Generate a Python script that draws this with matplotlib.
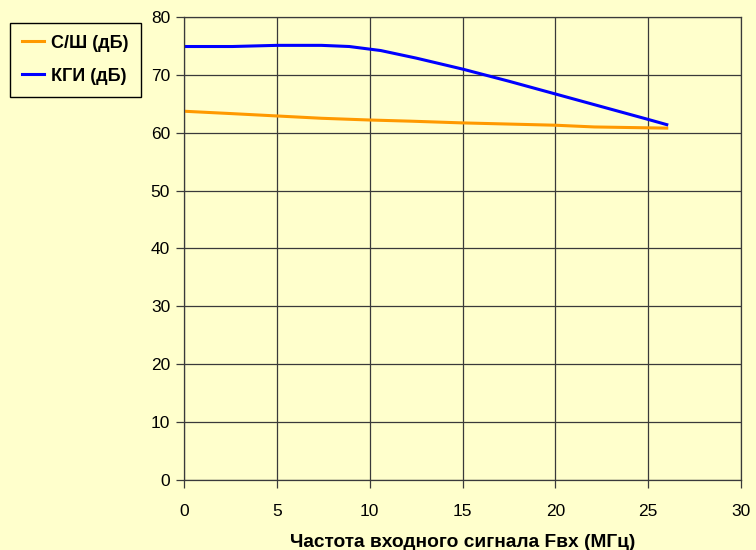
import matplotlib
matplotlib.use("Agg")
import matplotlib.pyplot as plt
import numpy as np

plt.rcParams['font.family'] = ['Liberation Sans', 'DejaVu Sans']

freq_sn = [0.1, 2.6, 5.0, 7.4, 10.0, 12.2, 15.0, 17.5, 20.0, 22.1, 24.0, 26.0]
sn_db = [63.7, 63.3, 62.9, 62.5, 62.2, 62.0, 61.7, 61.5, 61.3, 61.0, 60.9, 60.8]

freq_kgi = [0.1, 2.6, 5.0, 7.4, 8.9, 10.6, 12.5, 15.0, 17.5, 20.0, 22.5, 25.0, 26.0]
kgi_db = [74.9, 74.9, 75.1, 75.1, 74.9, 74.2, 72.9, 71.0, 68.9, 66.7, 64.5, 62.3, 61.4]

legend_labels = ["С/Ш (дБ)", "КГИ (дБ)"]
xlabel = "Частота входного сигнала Fвх (МГц)"

bg = "#FFFFCC"
fig = plt.figure(figsize=(7.56, 5.5), dpi=100, facecolor=bg)
ax = fig.add_axes([0.2434, 0.1273, 0.7368, 0.8418], facecolor=bg)

l1, = ax.plot(freq_sn, sn_db, color="#FF9900", lw=2.2, label=legend_labels[0])
l2, = ax.plot(freq_kgi, kgi_db, color="#0000FF", lw=2.2, label=legend_labels[1])

ax.set_xlim(0, 30)
ax.set_ylim(0, 80)
ax.set_xticks(np.arange(0, 31, 5))
ax.set_yticks(np.arange(0, 81, 10))
ax.grid(True, color="#3a3a3a", lw=0.9)
ax.set_axisbelow(True)
for s in ax.spines.values():
    s.set_color("#3a3a3a")
    s.set_linewidth(0.9)
ax.tick_params(axis='both', direction='out', length=6, width=0.9, color="#3a3a3a",
               labelsize=12.5)
ax.tick_params(axis='y', pad=4)
ax.tick_params(axis='x', pad=11)
ax.set_xlabel(xlabel, fontsize=13.8, fontweight='bold', labelpad=11)

leg = fig.legend(handles=[l1, l2], loc='upper left', bbox_to_anchor=(0.001, 0.975),
                 frameon=True, fancybox=False, edgecolor='black', facecolor=bg,
                 prop={'weight': 'bold', 'size': 13}, handlelength=1.25,
                 handletextpad=0.4, labelspacing=0.9, borderpad=0.65)
leg.get_frame().set_linewidth(1.0)
leg.get_frame().set_alpha(1)

fig.savefig("out.png", dpi=100, facecolor=bg)
